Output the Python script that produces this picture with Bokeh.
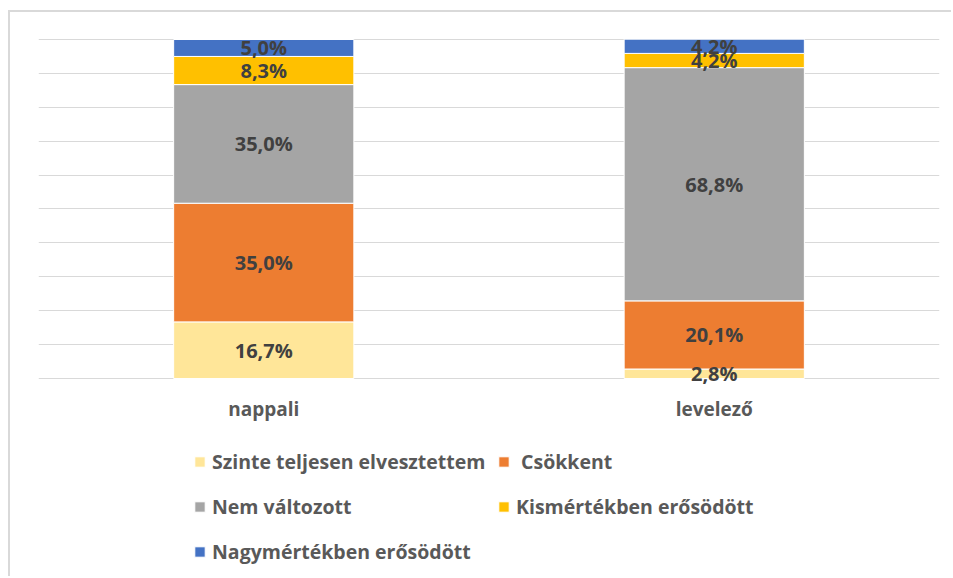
from bokeh.plotting import figure
from bokeh.models import ColumnDataSource, Legend, LegendItem, FactorRange, FixedTicker
from bokeh.core.properties import value
from bokeh.embed import file_html
from bokeh.resources import INLINE

categories = ["nappali", "levelező"]
series_names = ["Szinte teljesen elvesztettem", " Csökkent", "Nem változott",
                "Kismértékben erősödött", "Nagymértékben erősödött"]
szinte = [16.7, 2.8]
csokkent = [35.0, 20.1]
nem_valtozott = [35.0, 68.8]
kismertekben = [8.3, 4.2]
nagymertekben = [5.0, 4.2]
grid_ticks = [0, 10, 20, 30, 40, 50, 60, 70, 80, 90, 100]
colors = ["#FFE699", "#ED7D31", "#A5A5A5", "#FFC000", "#4472C4"]

series = [szinte, csokkent, nem_valtozott, kismertekben, nagymertekben]
keys = ["s0", "s1", "s2", "s3", "s4"]

data = {"cat": categories}
for k, s in zip(keys, series):
    data[k] = s
source = ColumnDataSource(data)

FONT = "Open Sans"

# frame: 0% at screen y=378, 100% at y=39 (3.39 px per %), extends to the bottom for the legend
p = figure(x_range=FactorRange(factors=categories, range_padding=0),
           y_range=(-59.0, 100.295), width=943, height=566,
           output_backend="svg", toolbar_location=None,
           x_axis_location=None, y_axis_location=None,
           min_border_left=28, min_border_right=14, min_border_top=26, min_border_bottom=0)
p.styles = {"margin-top": "10px", "margin-left": "8px",
            "border-top": "2px solid #d9d9d9", "border-left": "2px solid #d9d9d9"}
p.outline_line_color = None
p.xgrid.grid_line_color = None
p.ygrid.ticker = FixedTicker(ticks=grid_ticks)
p.ygrid.grid_line_color = "#d9d9d9"
p.ygrid.grid_line_width = 1

renderers = p.vbar_stack(keys, x="cat", width=0.4, color=colors, source=source,
                         line_color="white", line_width=1)

# data labels
for i in range(len(series)):
    mids, labels, cats = [], [], []
    for j, c in enumerate(categories):
        bottom = sum(series[k][j] for k in range(i))
        mids.append(bottom + series[i][j] / 2)
        labels.append(f"{series[i][j]:.1f}".replace(".", ",") + "%")
        cats.append(c)
    lsrc = ColumnDataSource({"cat": cats, "mid": mids, "lab": labels})
    p.text(x="cat", y="mid", text="lab", source=lsrc, text_align="center",
           text_baseline="middle", text_font=value(FONT), text_font_style="bold",
           text_font_size="20px", text_color="#404040")

# category labels under the baseline
csrc = ColumnDataSource({"cat": categories, "y": [0] * len(categories), "lab": categories})
p.text(x="cat", y="y", text="lab", source=csrc, text_align="center",
       text_baseline="middle", y_offset=31, text_font=value(FONT),
       text_font_style="bold", text_font_size="19px", text_color="#595959")

items = [LegendItem(label=n, renderers=[r]) for n, r in zip(series_names, renderers)]
legend_style = dict(orientation="vertical",
                    label_text_font=FONT, label_text_font_style="bold",
                    label_text_font_size="19.5px", label_text_color="#595959",
                    glyph_width=13, glyph_height=13, label_standoff=6,
                    label_height=20, spacing=18, padding=0, margin=0,
                    border_line_color=None, background_fill_alpha=0)
legend_left = Legend(items=[items[0], items[2], items[4]], location=(155, 13), **legend_style)
legend_right = Legend(items=[items[1], items[3]], location=(459, 58), **legend_style)
p.add_layout(legend_left, "center")
p.add_layout(legend_right, "center")

open("out.html", "w").write(file_html(p, INLINE))
